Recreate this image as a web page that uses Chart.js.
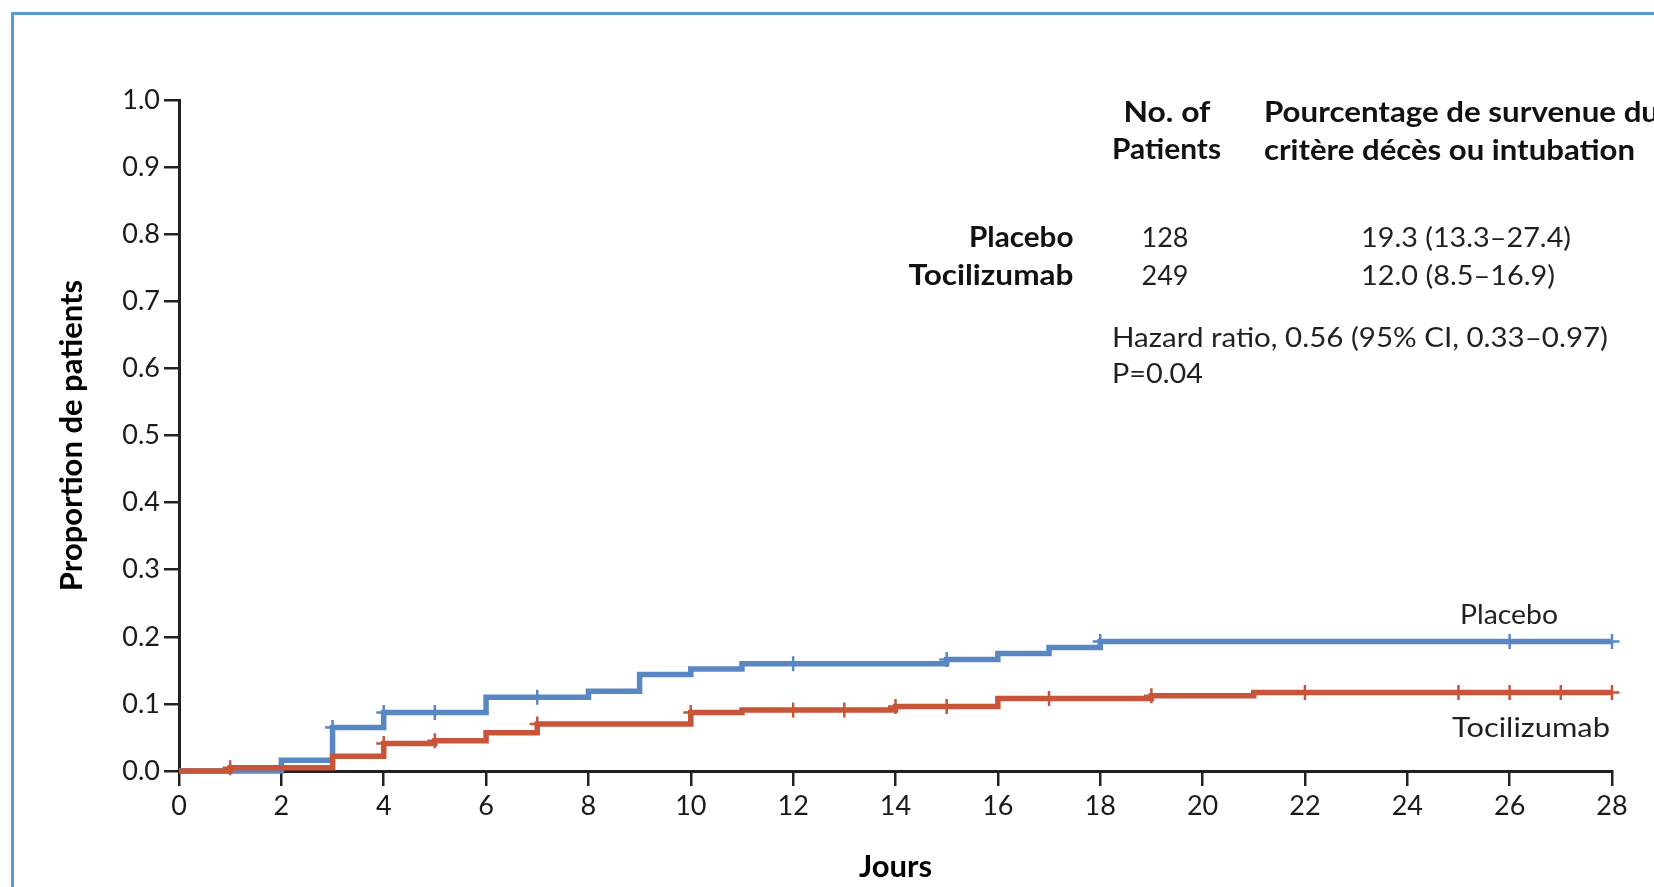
<!DOCTYPE html>
<html>
<head>
<meta charset="utf-8">
<script src="https://cdn.jsdelivr.net/npm/chart.js@4"></script>
<style>
  html, body { margin: 0; padding: 0; background: #fff; overflow: hidden; }
  #wrap { position: relative; width: 1654px; height: 887px; }
  #frame {
    position: absolute; left: 11px; top: 12px; right: -10px; bottom: -10px;
    border-left: 3px solid #5b9bd5; border-top: 3px solid #5b9bd5;
    pointer-events: none;
  }
  canvas { position: absolute; left: 0; top: 0; }
</style>
</head>
<body>
<div id="wrap">
  <canvas id="km" width="1654" height="887"></canvas>
  <div id="frame"></div>
</div>
<script>
// ── Data ──────────────────────────────────────────────────────────────────────
const placeboTimes  = [0, 2, 3, 4, 6, 8, 9, 10, 11, 15, 16, 17, 18, 28];
const placeboValues = [0, 0.016, 0.065, 0.087, 0.110, 0.119, 0.144, 0.152, 0.160, 0.166, 0.175, 0.184, 0.193, 0.193];
const placeboCensored = [3, 4, 5, 7, 12, 15, 18, 26, 28];

const tociTimes  = [0, 1, 3, 4, 5, 6, 7, 10, 11, 14, 16, 19, 21, 28];
const tociValues = [0, 0.005, 0.022, 0.041, 0.045, 0.057, 0.070, 0.087, 0.091, 0.096, 0.108, 0.112, 0.117, 0.117];
const tociCensored = [1, 4, 5, 7, 10, 12, 13, 14, 15, 17, 19, 22, 25, 26, 27, 28];

const xTickValues = [0, 2, 4, 6, 8, 10, 12, 14, 16, 18, 20, 22, 24, 26, 28];
const yTickValues = [0, 0.1, 0.2, 0.3, 0.4, 0.5, 0.6, 0.7, 0.8, 0.9, 1.0];

const BLUE = "#5987c4";
const RED  = "#c8553a";
const INK  = "#222";

// ── Helpers ───────────────────────────────────────────────────────────────────
function toPoints(times, values) {
  return times.map((t, i) => ({ x: t, y: values[i] }));
}

// value of the step curve at time t (level after the step)
function levelAt(times, values, t) {
  let v = values[0];
  for (let i = 0; i < times.length; i++) if (times[i] <= t) v = values[i];
  return v;
}

function censorPoints(cens, times, values) {
  return cens.map(t => ({ x: t, y: levelAt(times, values, t) }));
}

// draw text stretched/squeezed to a measured width
function fitText(ctx, text, x, baseline, width, align) {
  const w = ctx.measureText(text).width;
  const k = width / w;
  const left = align === "right" ? x - width : align === "center" ? x - width / 2 : x;
  ctx.save();
  ctx.translate(left, baseline);
  ctx.scale(k, 1);
  ctx.textAlign = "left";
  ctx.textBaseline = "alphabetic";
  ctx.fillText(text, 0, 0);
  ctx.restore();
}

// ── Annotation plugin (table block + curve labels) ────────────────────────────
const annotations = {
  id: "annotations",
  afterDraw(chart) {
    const ctx = chart.ctx;
    ctx.save();
    ctx.fillStyle = "#111";
    ctx.font = "bold 29px Lato";
    fitText(ctx, "No. of", 1167, 121.5, 87, "center");
    fitText(ctx, "Patients", 1166.5, 159, 109, "center");
    fitText(ctx, "Pourcentage de survenue du", 1264, 121.5, 395, "left");
    fitText(ctx, "critère décès ou intubation", 1264, 160, 371, "left");
    fitText(ctx, "Placebo", 1073.5, 246.7, 104.5, "right");
    fitText(ctx, "Tocilizumab", 1073.5, 285, 165, "right");

    ctx.fillStyle = "#231f20";
    ctx.font = "27px Lato";
    fitText(ctx, "128", 1165, 246.7, 47, "center");
    fitText(ctx, "249", 1165, 285, 47, "center");
    fitText(ctx, "19.3 (13.3\u201327.4)", 1361, 246.7, 210, "left");
    fitText(ctx, "12.0 (8.5\u201316.9)", 1361, 285, 194, "left");
    fitText(ctx, "Hazard ratio, 0.56 (95% CI, 0.33\u20130.97)", 1112, 346.7, 496, "left");
    fitText(ctx, "P=0.04", 1112, 383, 91, "left");

    const xs = chart.scales.x;
    const right = xs.getPixelForValue(28);
    fitText(ctx, "Placebo", 1460, 624, 98, "left");
    fitText(ctx, "Tocilizumab", right - 2, 737, 158, "right");
    ctx.restore();
  }
};

// ── Chart ─────────────────────────────────────────────────────────────────────
function initChart() {
  const ctx = document.getElementById("km").getContext("2d");

  const axisGrid = {
    display: true,
    drawOnChartArea: false,
    drawTicks: true,
    tickLength: 15,
    color: INK,
    lineWidth: 2.5,
  };

  new Chart(ctx, {
    type: "scatter",
    data: {
      datasets: [
        {
          label: "Tocilizumab censored",
          data: censorPoints(tociCensored, tociTimes, tociValues),
          pointStyle: "cross",
          pointRadius: 7.5,
          pointBorderWidth: 2.5,
          borderColor: RED,
          backgroundColor: RED,
          showLine: false,
          clip: false,
        },
        {
          label: "Tocilizumab",
          data: toPoints(tociTimes, tociValues),
          showLine: true,
          stepped: true,
          borderColor: RED,
          borderWidth: 5.5,
          pointRadius: 0,
          fill: false,
          clip: false,
        },
        {
          label: "Placebo censored",
          data: censorPoints(placeboCensored, placeboTimes, placeboValues),
          pointStyle: "cross",
          pointRadius: 7.5,
          pointBorderWidth: 2.5,
          borderColor: BLUE,
          backgroundColor: BLUE,
          showLine: false,
          clip: false,
        },
        {
          label: "Placebo",
          data: toPoints(placeboTimes, placeboValues),
          showLine: true,
          stepped: true,
          borderColor: BLUE,
          borderWidth: 5.5,
          pointRadius: 0,
          fill: false,
          clip: false,
        },
      ],
    },
    options: {
      responsive: false,
      animation: false,
      devicePixelRatio: 1,
      layout: { padding: { left: 0, top: 100, right: 42, bottom: 0 } },
      plugins: {
        legend: { display: false },
        tooltip: { enabled: false },
      },
      scales: {
        x: {
          type: "linear",
          min: 0,
          max: 28,
          afterFit: (s) => { s.height = 116; },
          afterBuildTicks: (s) => { s.ticks = xTickValues.map(v => ({ value: v })); },
          grid: axisGrid,
          border: { display: true, color: INK, width: 3 },
          ticks: {
            color: "#1a1a1a",
            font: { family: "Lato", size: 27 },
            padding: 4,
            maxRotation: 0,
            autoSkip: false,
          },
          title: {
            display: true,
            text: "Jours",
            color: "#000",
            font: { family: "Lato", size: 31, weight: "bold" },
            padding: { bottom: 1 },
          },
        },
        y: {
          type: "linear",
          min: 0,
          max: 1,
          afterFit: (s) => { s.width = 179; },
          afterBuildTicks: (s) => { s.ticks = yTickValues.map(v => ({ value: v })); },
          grid: axisGrid,
          border: { display: true, color: INK, width: 3 },
          ticks: {
            color: "#1a1a1a",
            font: { family: "Lato", size: 27 },
            padding: 4,
            callback: (v) => Number(v).toFixed(1),
          },
          title: {
            display: true,
            text: "Proportion de patients",
            color: "#000",
            font: { family: "Lato", size: 31, weight: "bold" },
            padding: { top: 53 },
          },
        },
      },
    },
    plugins: [annotations],
  });
}

window.addEventListener("DOMContentLoaded", () => {
  Promise.all([
    document.fonts.load("27px Lato"),
    document.fonts.load("bold 29px Lato"),
  ]).catch(() => {}).then(initChart);
});
</script>
</body>
</html>
